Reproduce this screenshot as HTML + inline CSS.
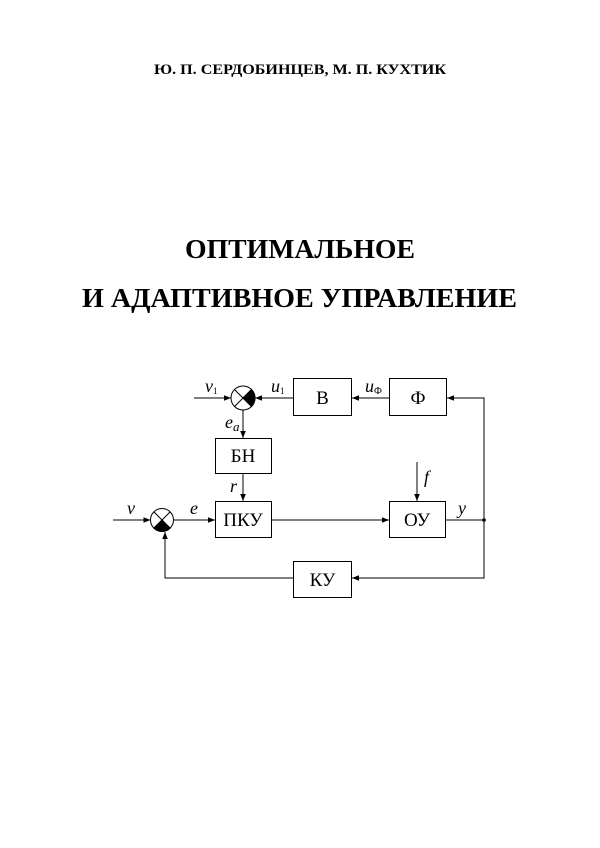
<!DOCTYPE html>
<html><head><meta charset="utf-8"><style>
html,body{margin:0;padding:0;background:#fff;}
svg{display:block;}
.s{font-family:'Liberation Serif',serif;}
</style></head><body>
<svg width="600" height="848" viewBox="0 0 600 848" xmlns="http://www.w3.org/2000/svg">
<defs>
<marker id="a" viewBox="0 0 10 10" refX="10" refY="5" markerWidth="7" markerHeight="7" orient="auto" markerUnits="userSpaceOnUse"><path d="M0,1 L10,5 L0,9 z" fill="#000"/></marker>
</defs>
<g class="s" font-weight="bold" fill="#000">
<text x="154" y="74" font-size="15" textLength="292" lengthAdjust="spacingAndGlyphs">Ю. П. СЕРДОБИНЦЕВ, М. П. КУХТИК</text>
<text x="185" y="258" font-size="27" textLength="230" lengthAdjust="spacingAndGlyphs">ОПТИМАЛЬНОЕ</text>
<text x="82" y="307" font-size="27" textLength="435" lengthAdjust="spacingAndGlyphs">И АДАПТИВНОЕ УПРАВЛЕНИЕ</text>
</g>
<g stroke="#000" stroke-width="1" fill="none">
<rect x="293.5" y="378.5" width="58" height="37" fill="#fff"/>
<rect x="389.5" y="378.5" width="57" height="37" fill="#fff"/>
<rect x="215.5" y="438.5" width="56" height="35" fill="#fff"/>
<rect x="215.5" y="501.5" width="56" height="36" fill="#fff"/>
<rect x="389.5" y="501.5" width="56" height="36" fill="#fff"/>
<rect x="293.5" y="561.5" width="58" height="36" fill="#fff"/>
<circle cx="243" cy="398" r="12" fill="#fff"/>
<path d="M243,398 L251.5,389.5 A12,12 0 0 1 251.5,406.5 Z" fill="#000"/>
<line x1="234.5" y1="389.5" x2="251.5" y2="406.5"/>
<line x1="234.5" y1="406.5" x2="251.5" y2="389.5"/>
<circle cx="162" cy="520" r="11.5" fill="#fff"/>
<path d="M162,520 L170.1,528.1 A11.5,11.5 0 0 1 153.9,528.1 Z" fill="#000"/>
<line x1="153.9" y1="511.9" x2="170.1" y2="528.1"/>
<line x1="153.9" y1="528.1" x2="170.1" y2="511.9"/>
<line x1="194" y1="398" x2="231" y2="398" marker-end="url(#a)"/>
<line x1="293" y1="398" x2="255" y2="398" marker-end="url(#a)"/>
<line x1="389" y1="398" x2="352" y2="398" marker-end="url(#a)"/>
<polyline points="484,520 484,398 447,398" marker-end="url(#a)"/>
<line x1="243" y1="410" x2="243" y2="438" marker-end="url(#a)"/>
<line x1="243" y1="474" x2="243" y2="501" marker-end="url(#a)"/>
<line x1="113" y1="520" x2="150.5" y2="520" marker-end="url(#a)"/>
<line x1="173.5" y1="520" x2="215" y2="520" marker-end="url(#a)"/>
<line x1="272" y1="520" x2="389" y2="520" marker-end="url(#a)"/>
<line x1="446" y1="520" x2="484" y2="520"/>
<line x1="417" y1="462" x2="417" y2="501" marker-end="url(#a)"/>
<polyline points="484,520 484,578 352,578" marker-end="url(#a)"/>
<polyline points="293,578 165,578 165,532" marker-end="url(#a)"/>
</g>
<circle cx="484" cy="520" r="1.8" fill="#000"/>
<g class="s" fill="#000" text-anchor="middle" font-size="19">
<text x="322.5" y="404">В</text>
<text x="418" y="404">Ф</text>
<text x="243" y="462">БН</text>
<text x="243" y="526">ПКУ</text>
<text x="417" y="526">ОУ</text>
<text x="322.5" y="586">КУ</text>
</g>
<g class="s" font-style="italic" fill="#000" font-size="18">
<text x="205" y="392">v<tspan font-size="9" font-style="normal" dy="2">1</tspan></text>
<text x="271" y="392">u<tspan font-size="9" font-style="normal" dy="2">1</tspan></text>
<text x="365" y="392">u<tspan font-size="10" font-style="normal" dy="2">Ф</tspan></text>
<text x="225" y="428">e<tspan font-size="13" dy="3">a</tspan></text>
<text x="230" y="492">r</text>
<text x="127" y="514">v</text>
<text x="190" y="514">e</text>
<text x="424" y="483">f</text>
<text x="458" y="514">y</text>
</g>
</svg>
</body></html>
